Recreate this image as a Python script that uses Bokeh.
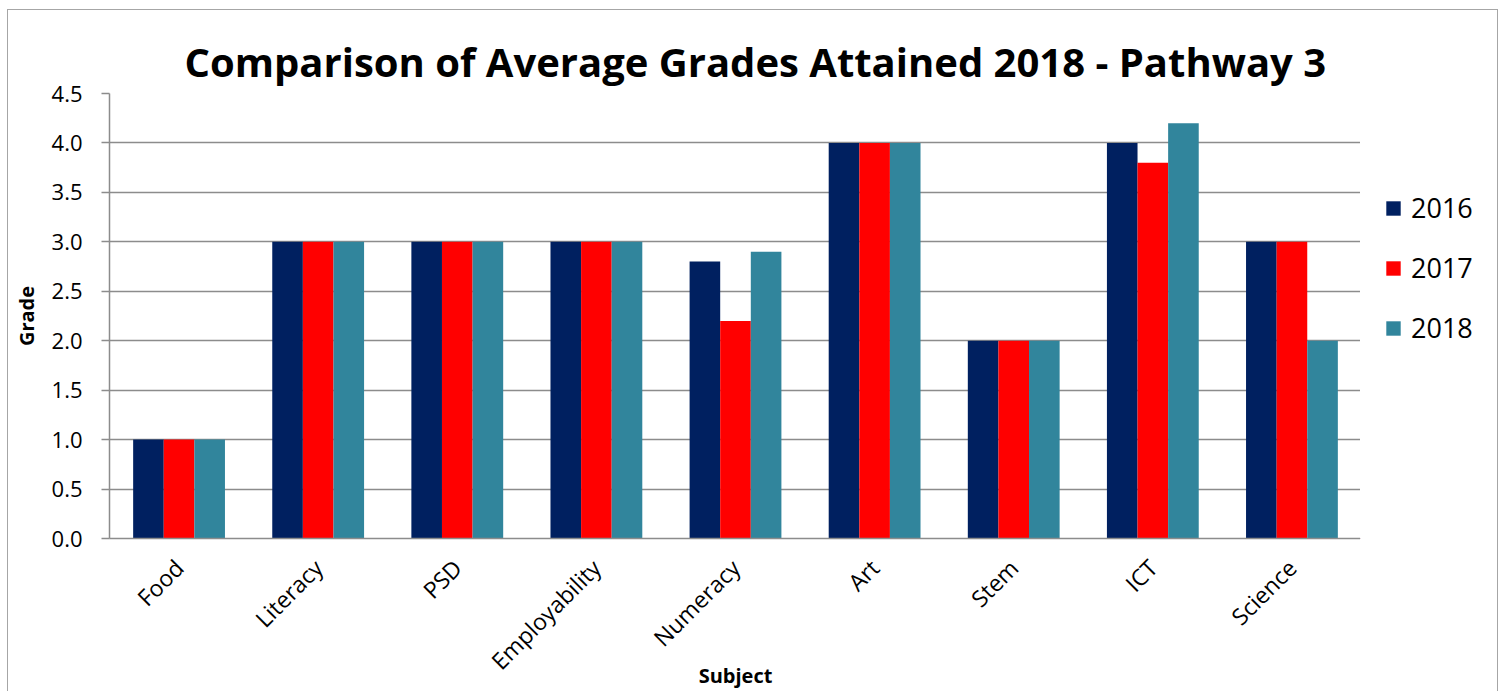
from math import pi

from bokeh.embed import file_html
from bokeh.layouts import row
from bokeh.models import (ColumnDataSource, FactorRange, FixedTicker, Legend,
                          LegendItem, NumeralTickFormatter, Range1d)
from bokeh.plotting import figure
from bokeh.resources import INLINE
from bokeh.transform import dodge

# Average grades per subject, three cohorts
subjects = ["Food", "Literacy", "PSD", "Employability", "Numeracy",
            "Art", "Stem", "ICT", "Science"]
grades_2016 = [1.0, 3.0, 3.0, 3.0, 2.8, 4.0, 2.0, 4.0, 3.0]
grades_2017 = [1.0, 3.0, 3.0, 3.0, 2.2, 4.0, 2.0, 3.8, 3.0]
grades_2018 = [1.0, 3.0, 3.0, 3.0, 2.9, 4.0, 2.0, 4.2, 2.0]
years = ["2016", "2017", "2018"]
y_ticks = [0.0, 0.5, 1.0, 1.5, 2.0, 2.5, 3.0, 3.5, 4.0, 4.5]

colors = ["#002060", "#FF0000", "#31859C"]
FONT = "Open Sans"
GREY = "#8c8c8c"
EDGE = "1px solid #a6a6a6"

source = ColumnDataSource(dict(subject=subjects, g2016=grades_2016,
                               g2017=grades_2017, g2018=grades_2018))

# main chart
H = 682
p = figure(x_range=FactorRange(*subjects), y_range=Range1d(0, 4.5),
           width=1353, height=H, output_backend="svg", toolbar_location=None,
           min_border_left=101, min_border_right=0,
           min_border_top=83, min_border_bottom=154,
           title="Comparison of Average Grades Attained 2018 - Pathway 3")
p.styles = {"border-top": EDGE, "border-left": EDGE}
p.outline_line_color = None
p.background_fill_color = "white"
p.border_fill_color = "white"

p.title.text_font = FONT
p.title.text_font_size = "40px"
p.title.text_font_style = "bold"
p.title.text_color = "black"
p.title.align = "left"
p.title.offset = 75
p.title.standoff = 10

bar_w = 0.22
for i, (col, c) in enumerate(zip(["g2016", "g2017", "g2018"], colors)):
    p.vbar(x=dodge("subject", (i - 1) * bar_w, range=p.x_range), top=col,
           width=bar_w, source=source, fill_color=c, line_color=None)

# y axis
yax = p.yaxis[0]
yax.ticker = FixedTicker(ticks=y_ticks)
yax.formatter = NumeralTickFormatter(format="0.0")
yax.axis_line_color = GREY
yax.axis_line_width = 1.5
yax.major_tick_line_color = GREY
yax.major_tick_line_width = 1.5
yax.major_tick_out = 8
yax.major_tick_in = 0
yax.minor_tick_line_color = None
yax.major_label_text_font = FONT
yax.major_label_text_font_size = "22px"
yax.major_label_text_color = "black"
yax.major_label_standoff = 19
yax.axis_label = "Grade"
yax.axis_label_text_font = FONT
yax.axis_label_text_font_size = "20px"
yax.axis_label_text_font_style = "bold"
yax.axis_label_text_color = "black"
yax.axis_label_standoff = 9

# x axis
xax = p.xaxis[0]
xax.axis_line_color = GREY
xax.axis_line_width = 1.5
xax.major_tick_line_color = None
xax.minor_tick_line_color = None
xax.major_label_orientation = pi / 4
xax.major_label_text_font = FONT
xax.major_label_text_font_size = "23px"
xax.major_label_text_color = "black"
xax.major_label_standoff = 19
xax.axis_label = "Subject"
xax.axis_label_text_font = FONT
xax.axis_label_text_font_size = "20px"
xax.axis_label_text_font_style = "bold"
xax.axis_label_text_color = "black"
xax.axis_label_standoff = -28

p.xgrid.grid_line_color = None
p.ygrid.grid_line_color = GREY
p.ygrid.grid_line_width = 1.5

# legend panel to the right of the plot area; its swatch glyphs sit outside
# the panel's visible ranges so only the legend entries show
q = figure(width=138, height=H, output_backend="svg", toolbar_location=None,
           min_border=0, x_range=Range1d(1, 2), y_range=Range1d(1, 2))
q.styles = {"border-top": EDGE, "border-right": EDGE}
q.axis.visible = False
q.grid.visible = False
q.outline_line_color = None
q.background_fill_color = "white"
q.border_fill_color = "white"
swatches = [q.vbar(x=[0], top=[0], width=0.1, fill_color=c, line_color=None)
            for c in colors]

legend = Legend(items=[LegendItem(label=y, renderers=[r])
                       for y, r in zip(years, swatches)],
                location=(24, 192))
legend.glyph_width = 18
legend.glyph_height = 18
legend.label_height = 30
legend.label_standoff = 9
legend.spacing = 23
legend.padding = 0
legend.margin = 0
legend.border_line_color = None
legend.background_fill_alpha = 0
legend.label_text_font = FONT
legend.label_text_font_size = "27px"
legend.label_text_color = "black"
q.add_layout(legend)

layout = row(p, q)
layout.margin = (9, 0, 0, 7)

open("out.html", "w").write(file_html(layout, INLINE))
